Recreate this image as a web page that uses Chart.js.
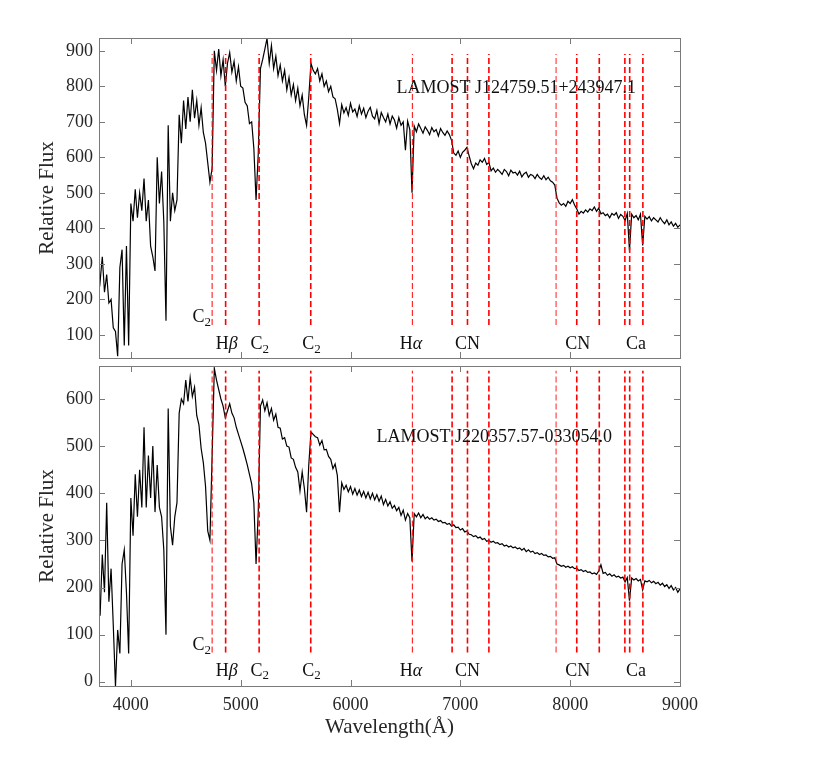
<!DOCTYPE html>
<html>
<head>
<meta charset="utf-8">
<script src="https://cdn.jsdelivr.net/npm/chart.js@4.4.1/dist/chart.umd.min.js"></script>
<style>
  html, body { margin: 0; padding: 0; background: #fff; }
  #wrap { position: relative; width: 830px; height: 763px; }
  canvas { position: absolute; left: 0; }
</style>
</head>
<body>
<div id="wrap">
  <canvas id="topChart" width="830" height="362" style="top:0"></canvas>
  <canvas id="bottomChart" width="830" height="401" style="top:362px"></canvas>
</div>
<script>
// spectra sampled every 20 A starting at 3700 A
const LAM_START = 3700;
const LAM_STEP = 20;

const FLUX_TOP = [
  300, 250, 320, 220, 270, 190, 200, 120, 110, 40,   // 3700
  290, 340, 70, 350, 70, 470, 420, 510, 430, 500,    // 3900
  450, 540, 420, 480, 350, 320, 280, 600, 470, 560,  // 4100
  420, 140, 690, 420, 500, 450, 480, 720, 640, 760,  // 4300
  680, 770, 700, 790, 710, 760, 690, 740, 670, 640,  // 4500
  585, 530, 570, 900, 845, 905, 830, 875, 800, 865,  // 4700
  895, 840, 870, 815, 855, 800, 795, 755, 745, 695,  // 4900
  700, 625, 480, 610, 850, 875, 905, 935, 865, 915,  // 5100
  850, 885, 830, 860, 815, 845, 790, 825, 775, 805,  // 5300
  760, 795, 745, 775, 720, 690, 770, 865, 845, 835,  // 5500
  850, 815, 835, 800, 815, 785, 800, 770, 765, 735,  // 5700
  695, 748, 725, 740, 718, 752, 728, 736, 715, 745,  // 5900
  722, 738, 712, 730, 741, 716, 708, 732, 695, 726,  // 6100
  712, 700, 722, 694, 716, 705, 682, 712, 690, 700,  // 6300
  620, 702, 678, 500, 688, 672, 694, 681, 668, 686,  // 6500
  676, 664, 684, 672, 678, 660, 681, 670, 662, 674,  // 6700
  664, 648, 612, 606, 618, 600, 614, 620, 628, 604,  // 6900
  582, 568, 584, 578, 593, 586, 597, 580, 586, 562,  // 7100
  570, 558, 566, 560, 552, 566, 560, 548, 564, 556,  // 7300
  558, 550, 561, 545, 554, 558, 544, 552, 549, 540,  // 7500
  552, 543, 538, 548, 537, 544, 534, 530, 522, 485,  // 7700
  472, 465, 470, 462, 476, 470, 481, 466, 455, 440,  // 7900
  448, 443, 452, 446, 455, 450, 460, 448, 457, 441,  // 8100
  444, 436, 440, 430, 442, 437, 444, 428, 439, 434,  // 8300
  422, 442, 338, 440, 430, 436, 424, 440, 352, 434,  // 8500
  426, 433, 421, 430, 424, 418, 430, 420, 413, 424,  // 8700
  410, 418, 406, 414, 403, 410                       // 8900
];

const FLUX_BOTTOM = [
  200, 140, 270, 190, 380, 170, 240, 120, -10, 110,  // 3700
  60, 250, 280, 190, 60, 390, 310, 440, 350, 450,    // 3900
  370, 540, 370, 480, 390, 500, 360, 460, 370, 350,  // 4100
  280, 100, 580, 330, 290, 350, 380, 570, 600, 590,  // 4300
  640, 595, 645, 605, 625, 565, 545, 495, 465, 415,  // 4500
  320, 300, 480, 665, 640, 620, 600, 585, 560, 575,  // 4700
  590, 570, 560, 540, 525, 510, 495, 478, 460, 440,  // 4900
  420, 380, 250, 360, 585, 598, 575, 592, 565, 580,  // 5100
  555, 568, 540, 538, 515, 518, 500, 498, 475, 472,  // 5300
  455, 445, 405, 445, 410, 360, 460, 530, 525, 520,  // 5500
  518, 502, 512, 492, 493, 478, 472, 452, 462, 438,  // 5700
  360, 422, 408, 417, 403, 414, 398, 410, 396, 407,  // 5900
  393, 404, 390, 402, 388, 400, 386, 397, 383, 394,  // 6100
  376, 387, 373, 382, 368, 374, 363, 370, 353, 364,  // 6300
  343, 357, 348, 255, 357, 350, 358, 348, 355, 346,  // 6500
  350, 345, 348, 343, 345, 340, 342, 337, 338, 334,  // 6700
  336, 330, 333, 327, 328, 322, 325, 318, 320, 313,  // 6900
  312, 308, 310, 305, 307, 302, 304, 298, 300, 296,  // 7100
  298, 294, 295, 291, 293, 288, 290, 286, 288, 284,  // 7300
  286, 282, 284, 279, 283, 276, 280, 275, 277, 272,  // 7500
  274, 270, 272, 268, 269, 265, 266, 262, 263, 250,  // 7700
  248, 245, 247, 243, 245, 242, 244, 240, 241, 236,  // 7900
  238, 234, 236, 232, 233, 229, 231, 228, 235, 248,  // 8100
  230, 232, 226, 229, 224, 227, 222, 224, 220, 222,  // 8300
  212, 221, 172, 220, 216, 219, 214, 217, 195, 214,  // 8500
  212, 215, 210, 213, 208, 211, 205, 209, 202, 206,  // 8700
  198, 204, 195, 200, 190, 197                       // 8900
];

const LINE_WAVES = [4740, 4863, 5168, 5638, 6563, 6925, 7065, 7260, 7872, 8060, 8265, 8498, 8542, 8662];
const LABEL_TEXTS = ['C2', 'Hβ', 'C2', 'C2', 'Hα', 'CN', 'CN', 'Ca'];
const LABEL_WAVES = [4645, 4873, 5173, 5645, 6550, 7065, 8070, 8600];
const X_TICKS = [4000, 5000, 6000, 7000, 8000, 9000];
const Y_TICKS_TOP = [100, 200, 300, 400, 500, 600, 700, 800, 900];
const Y_TICKS_BOTTOM = [0, 100, 200, 300, 400, 500, 600];
const NAME_TOP = 'LAMOST J124759.51+243947.1';
const NAME_BOTTOM = 'LAMOST J220357.57-033054.0';

const SERIF = '"Liberation Serif", "Times New Roman", serif';
Chart.defaults.font.family = SERIF;
Chart.defaults.color = '#262626';

const toPoints = flux => flux.map((y, i) => ({ x: LAM_START + i * LAM_STEP, y }));

const thinLines = new Set([4740, 6563]);
const fadedLines = new Set([7872]);

function lineSets(lo, hi) {
  return LINE_WAVES.map(w => ({
    data: [{ x: w, y: lo }, { x: w, y: hi }],
    borderColor: fadedLines.has(w) ? 'rgba(255,0,0,0.55)' : '#ff0000',
    borderWidth: thinLines.has(w) ? 1 : 1.6,
    borderDash: [6, 3],
    pointRadius: 0,
    order: 0
  }));
}

// "C2" -> C with subscript 2, greek letters in italics
function drawRich(ctx, text, cx, cy) {
  const runs = [...text].map(ch => {
    if (/\d/.test(ch)) return { t: ch, font: `13px ${SERIF}`, dy: 5 };
    if (/[α-ω]/.test(ch)) return { t: ch, font: `italic 18px ${SERIF}`, dy: 0 };
    return { t: ch, font: `18px ${SERIF}`, dy: 0 };
  });
  let total = 0;
  runs.forEach(r => { ctx.font = r.font; r.w = ctx.measureText(r.t).width; total += r.w; });
  let x = cx - total / 2;
  ctx.textAlign = 'left';
  ctx.textBaseline = 'middle';
  runs.forEach(r => { ctx.font = r.font; ctx.fillText(r.t, x, cy + r.dy); x += r.w; });
}

// box, inward ticks and text labels
function framePlugin(p) {
  return {
    id: 'frame',
    afterDatasetsDraw(chart) {
      const { ctx, chartArea: a, scales: { x, y } } = chart;
      ctx.save();
      ctx.strokeStyle = '#7a7a7a';
      ctx.lineWidth = 1;
      ctx.strokeRect(a.left + 0.5, a.top + 0.5, a.right - a.left, a.bottom - a.top);
      ctx.beginPath();
      p.yTicks.forEach(v => {
        const py = Math.round(y.getPixelForValue(v)) + 0.5;
        ctx.moveTo(a.left, py); ctx.lineTo(a.left + 6, py);
        ctx.moveTo(a.right, py); ctx.lineTo(a.right - 6, py);
      });
      X_TICKS.forEach(v => {
        const px = Math.round(x.getPixelForValue(v)) + 0.5;
        ctx.moveTo(px, a.top); ctx.lineTo(px, a.top + 6);
        ctx.moveTo(px, a.bottom); ctx.lineTo(px, a.bottom - 6);
      });
      ctx.stroke();

      ctx.fillStyle = '#111';
      LABEL_TEXTS.forEach((t, i) => {
        const row = i === 0 ? p.labelY[0] : p.labelY[1];
        drawRich(ctx, t, x.getPixelForValue(LABEL_WAVES[i]), y.getPixelForValue(row));
      });
      ctx.font = `18px ${SERIF}`;
      ctx.textAlign = 'center';
      ctx.textBaseline = 'middle';
      ctx.fillText(p.name, x.getPixelForValue(p.nameAt[0]), y.getPixelForValue(p.nameAt[1]));
      ctx.restore();
    }
  };
}

function makeChart(id, p) {
  return new Chart(document.getElementById(id), {
    type: 'line',
    data: {
      datasets: [
        { data: toPoints(p.flux), borderColor: '#000', borderWidth: 1.2, pointRadius: 0, order: 1 },
        ...lineSets(p.lineLo, p.lineHi)
      ]
    },
    options: {
      responsive: false,
      animation: false,
      devicePixelRatio: 1,
      layout: { padding: { top: p.padTop, right: 150, left: 0, bottom: 0 } },
      plugins: { legend: { display: false }, tooltip: { enabled: false } },
      scales: {
        x: {
          type: 'linear',
          min: 3710,
          max: 9000,
          grid: { display: false, drawTicks: false },
          border: { display: false },
          afterBuildTicks: s => { s.ticks = X_TICKS.map(v => ({ value: v })); },
          ticks: { display: p.showX, font: { size: 18 }, padding: 8, maxRotation: 0, autoSkip: false, callback: v => String(v) },
          title: { display: p.showX, text: 'Wavelength(Å)', font: { size: 21 }, padding: { top: 0, bottom: 23 } },
          afterFit: s => { s.height = p.xHeight; s.paddingLeft = 0; s.paddingRight = 0; }
        },
        y: {
          min: p.yMin,
          max: p.yMax,
          grid: { display: false, drawTicks: false },
          border: { display: false },
          afterBuildTicks: s => { s.ticks = p.yTicks.map(v => ({ value: v })); },
          ticks: { font: { size: 18 }, padding: 6, callback: v => String(v) },
          title: { display: true, text: 'Relative Flux', font: { size: 21 }, padding: { top: 35, bottom: 0 } },
          afterFit: s => { s.width = 99; s.paddingTop = 0; s.paddingBottom = 0; }
        }
      }
    },
    plugins: [framePlugin(p)]
  });
}

makeChart('topChart', {
  flux: FLUX_TOP, yMin: 35, yMax: 936, yTicks: Y_TICKS_TOP,
  lineLo: 128, lineHi: 891, labelY: [150, 74],
  name: NAME_TOP, nameAt: [7509, 795],
  padTop: 38, xHeight: 4, showX: false
});

makeChart('bottomChart', {
  flux: FLUX_BOTTOM, yMin: -9, yMax: 670, yTicks: Y_TICKS_BOTTOM,
  lineLo: 62, lineHi: 660, labelY: [77, 23],
  name: NAME_BOTTOM, nameAt: [7309, 519],
  padTop: 4, xHeight: 77, showX: true
});
</script>
</body>
</html>
